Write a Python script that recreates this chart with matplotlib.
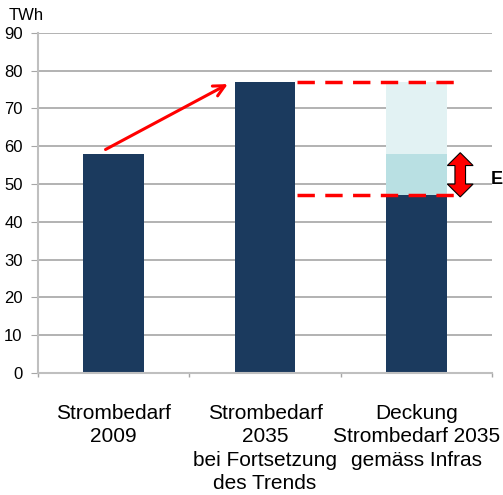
import matplotlib.pyplot as plt
from matplotlib.patches import Polygon

plt.rcParams['font.family'] = ['Liberation Sans', 'DejaVu Sans']

# data
categories = ['Strombedarf\n2009',
              'Strombedarf\n2035\nbei Fortsetzung\ndes Trends',
              'Deckung\nStrombedarf 2035\ngemäss Infras']
base_vals = [58, 77, 47]
mid_vals = [0, 0, 11]
top_vals = [0, 0, 19]
trend_from = 58.8
trend_to = 76.8

navy = '#1B3A5E'
teal = '#B9E0E3'
pale = '#E2F2F3'
grid_c = '#A6A6A6'

fig = plt.figure(figsize=[5.03, 4.95], dpi=100)
ax = fig.add_axes([0.0755, 0.2465, 0.903, 0.687])

x = list(range(len(categories)))
ax.bar(x, base_vals, width=0.4, color=navy, zorder=2)
mid_bottom = base_vals
ax.bar(x, mid_vals, width=0.4, bottom=mid_bottom, color=teal, zorder=2)
top_bottom = [b + m for b, m in zip(base_vals, mid_vals)]
ax.bar(x, top_vals, width=0.4, bottom=top_bottom, color=pale, zorder=2)

ax.set_xlim(-0.5, 2.5)
ax.set_ylim(0, 90)
ax.set_yticks(range(0, 91, 10))
ax.yaxis.grid(True, color=grid_c, linewidth=1.2, zorder=0)
ax.set_axisbelow(True)

ax.set_xticks([-0.5, 0.5, 1.5, 2.5], minor=False)
ax.set_xticklabels([])
ax.set_xticks(x, minor=True)
ax.set_xticklabels(categories, minor=True, fontsize=15, linespacing=1.3, va='top')
ax.tick_params(axis='x', which='minor', length=0, pad=22)
ax.tick_params(axis='x', which='major', length=3, color=grid_c, width=1)
ax.tick_params(axis='y', length=5, color=grid_c, labelsize=12, pad=6)

for s in ['top', 'right']:
    ax.spines[s].set_visible(False)
for s in ['left', 'bottom']:
    ax.spines[s].set_color('#BFBFBF')
    ax.spines[s].set_linewidth(1.5)

ax.text(-0.064, 1.03, 'TWh', transform=ax.transAxes, fontsize=12, ha='left', va='bottom')

# trend arrow
ax.annotate('', xy=(0.77, trend_to), xytext=(-0.07, trend_from),
            arrowprops=dict(arrowstyle='->,head_length=0.8,head_width=0.4',
                            color='red', lw=2.2))

# dashed reference lines
total3 = top_bottom[2] + top_vals[2]
ax.plot([1.21, 2.28], [total3, total3], color='red', lw=2.5, ls=(0, (5, 3)), zorder=3)
ax.plot([1.21, 2.31], [base_vals[2], base_vals[2]], color='red', lw=2.5, ls=(0, (5, 3)), zorder=3)

# double arrow
cx = 2.289
hw = 0.085
sw = 0.035
hl = 3.4
y0 = base_vals[2] - 0.4
y1 = top_bottom[2] + 0.3
pts = [(cx, y1), (cx + hw, y1 - hl), (cx + sw, y1 - hl), (cx + sw, y0 + hl),
       (cx + hw, y0 + hl), (cx, y0), (cx - hw, y0 + hl), (cx - sw, y0 + hl),
       (cx - sw, y1 - hl), (cx - hw, y1 - hl)]
ax.add_patch(Polygon(pts, closed=True, facecolor='red', edgecolor='black',
                     linewidth=0.8, zorder=4, clip_on=False))

fig.text(0.999, 1 - 180 / 495, 'E', fontsize=13, fontweight='bold', va='center', ha='right')

fig.savefig('out.png', dpi=100)
